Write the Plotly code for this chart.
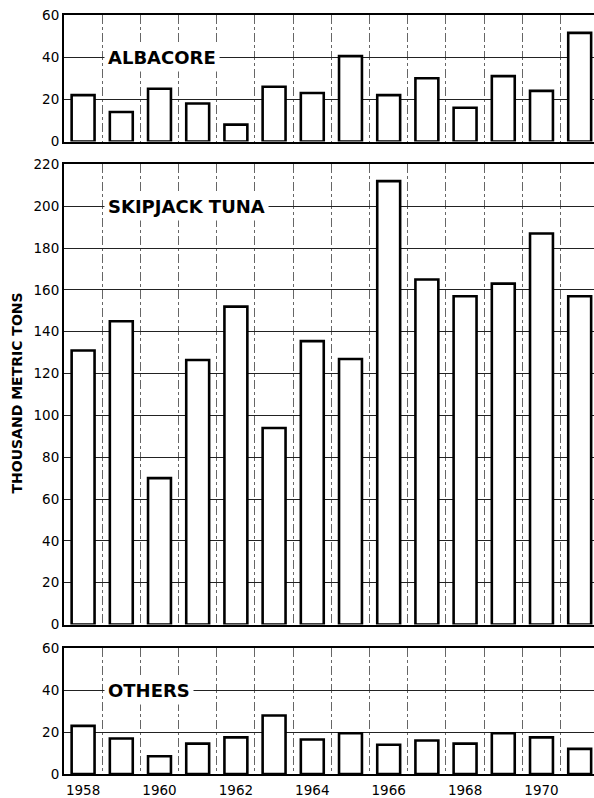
import plotly.graph_objects as go

# Annual catch, thousand metric tons
years = list(range(1958, 1972))
albacore = [22, 14, 25, 18, 8, 26, 23, 40.5, 22, 30, 16, 31, 24, 51.5]
skipjack = [131, 145, 70, 126.5, 152, 94, 135.5, 127, 212, 165, 157, 163, 187, 157]
others = [23, 17, 8.5, 14.5, 17.5, 28, 16.5, 19.5, 14, 16, 14.5, 19.5, 17.5, 12]

panel_names = ["ALBACORE", "SKIPJACK TUNA", "OTHERS"]
panel_series = [albacore, skipjack, others]
panel_ymax = [60, 220, 60]
year_ticks = [1958, 1960, 1962, 1964, 1966, 1968, 1970]
year_bounds = [y + 0.5 for y in years]

W, H = 594, 798
M_L, M_R, M_T, M_B = 64, 0, 15, 21
plot_h = H - M_T - M_B

def frac(py):
    return (H - M_B - py) / plot_h

# pixel rows of each panel (top, bottom)
panel_px = [(15, 142), (165, 627), (651, 777)]
domains = [[frac(b), frac(t)] for t, b in panel_px]

FONT = "DejaVu Sans"
x_range = [1957.5, 1971.375]

fig = go.Figure()
layout = dict(
    width=W, height=H,
    margin=dict(l=M_L, r=M_R, t=M_T, b=M_B),
    paper_bgcolor="white", plot_bgcolor="white",
    showlegend=False,
    font=dict(family=FONT, color="black", size=13),
)

annotations = []
for i, (name, vals, ymax) in enumerate(zip(panel_names, panel_series, panel_ymax)):
    k = "" if i == 0 else str(i + 1)
    fig.add_trace(go.Bar(
        x=years, y=vals, width=0.6,
        marker=dict(color="white", line=dict(color="black", width=2.6)),
        xaxis="x" + k, yaxis="y" + k,
    ))
    layout["xaxis" + k] = dict(
        domain=[0, 1], anchor="y" + k, range=x_range,
        showline=True, mirror=True, linecolor="black", linewidth=2,
        showgrid=False, zeroline=False,
        tickvals=year_ticks, ticktext=[str(y) for y in year_ticks],
        showticklabels=(i == 2), ticks="outside", ticklen=3, tickcolor="white",
        tickfont=dict(family=FONT, size=13.5, color="black"),
        minor=dict(tickvals=year_bounds, showgrid=True, gridcolor="#666",
                   griddash="dashdot", gridwidth=1, ticks=""),
    )
    layout["yaxis" + k] = dict(
        domain=domains[i], anchor="x" + k, range=[0, ymax],
        tickvals=list(range(0, ymax + 1, 20)),
        showline=True, linecolor="black", linewidth=2,
        showgrid=True, gridcolor="#222", gridwidth=1.2,
        zeroline=False, ticks="",
        tickfont=dict(family=FONT, size=13.5, color="black"),
    )
    label_y = 200 if i == 1 else 40
    annotations.append(dict(
        x=1958.56, y=label_y, xref="x" + k, yref="y" + k,
        xanchor="left", yanchor="middle", showarrow=False,
        text=name, bgcolor="white", borderpad=3,
        font=dict(family=FONT, size=18, color="black", weight="bold"),
    ))

annotations.append(dict(
    x=(17 - M_L) / (W - M_L - M_R), y=frac(395), xref="paper", yref="paper",
    xanchor="center", yanchor="middle", showarrow=False, textangle=-90,
    text="THOUSAND METRIC TONS",
    font=dict(family=FONT, size=14, color="black", weight="bold"),
))
layout["annotations"] = annotations
fig.update_layout(**layout)

fig.write_html("out.html")
